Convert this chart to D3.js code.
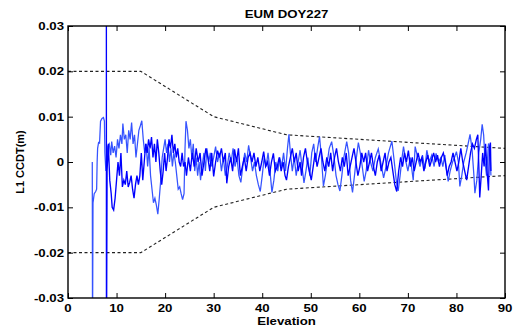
<!DOCTYPE html>
<html>
<head>
<meta charset="utf-8">
<script src="https://cdn.jsdelivr.net/npm/d3@7"></script>
<style>
  body { margin: 0; background: #fff; }
  text { font-family: "Liberation Sans", Arial, sans-serif; font-weight: bold; fill: #000; }
</style>
</head>
<body>
<svg id="chart"></svg>
<script>
// chart text + ticks
const title = "EUM DOY227";
const xLabel = "Elevation";
const yLabel = "L1 CCDT(m)";
const xTicks = [0, 10, 20, 30, 40, 50, 60, 70, 80, 90];
const yTicksMm = [-30, -20, -10, 0, 10, 20, 30];
const yTickLabels = ["-0.03", "-0.02", "-0.01", "0", "0.01", "0.02", "0.03"];

// dashed bound (elevation, mm)
const boundElev = [0, 15, 30, 45, 90];
const boundMm = [20, 20, 10, 6, 3];

// pass 1 (lighter trace), [elevation, CCDT in mm]
const passLight = [
  [5.0,0],[5.05,-40],[5.15,-9],[5.4,-7],[5.7,-6.5],[5.9,-6],[6.0,0],[6.1,3],[6.3,4.3],[6.5,4.2],
  [6.7,9],[7.0,9.6],[7.3,9.8],[7.5,9],[7.6,2],[7.8,-2],[8.2,3.5],[8.5,4],[8.8,1.5],[9.0,4.5],
  [9.3,2],[9.6,3.5],[9.9,1],[10.2,5],[10.5,3],[10.8,6],[11.1,4],[11.3,8.5],[11.6,5],[11.9,6],
  [12.2,2],[12.5,7],[12.8,5],[13.1,8.7],[13.4,4],[13.7,6],[14.0,1],[14.3,4],[14.6,7],[14.9,8],
  [15.2,9.1],[15.5,5],[15.8,2],[16.1,4],[16.4,-1],[16.7,3],[17.0,-3],[17.3,-6],[17.6,-9],[17.9,-8],
  [18.2,-9.5],[18.5,-11.5],[18.8,-8],[19.1,-4],[19.4,1],[19.7,3],[20.0,5],[20.3,2],[20.6,4],[20.9,0],
  [21.2,3],[21.5,-1],[21.8,2],[22.1,0],[22.4,-3],[22.7,-6],[23.0,-5.5],[23.3,-7],[23.6,-8.3],[23.9,-7],
  [24.1,3],[24.3,9],[24.6,7],[24.9,3],[25.2,5],[25.5,1],[25.8,4],[26.1,-2],[26.4,1],[26.7,-3],
  [27.0,0],[27.3,-4],[27.6,-1],[28.0,2],[28.3,-2],[28.6,3],[29.0,0],[29.3,2],[29.6,-1],[30.0,1],
  [30.4,3.4],[30.8,0],[31.2,2],[31.6,-2],[32.0,1],[32.4,-3],[32.8,-1],[33.2,2],[33.6,0],[34.0,3],
  [34.4,-1],[34.8,1],[35.2,-3],[35.6,-4.5],[36.0,-1],[36.4,2],[36.8,0],[37.2,3.7],[37.6,1],[38.0,-2],
  [38.4,0],[38.8,-3],[39.2,-5],[39.6,-6.5],[40.0,-3],[40.4,1],[40.8,-1],[41.2,2],[41.6,-2],[42.0,-6.7],
  [42.4,-4],[42.8,0],[43.2,-2],[43.6,1],[44.0,-1],[44.4,2],[44.8,-2],[45.2,3],[45.5,6.1],[45.8,2],
  [46.2,-2],[46.6,1],[47.0,-3],[47.4,0],[47.8,2.6],[48.2,-1],[48.6,-4.6],[49.0,-2],[49.4,1],[49.8,-3],
  [50.2,2],[50.6,4],[51.0,0],[51.4,3],[51.8,5.6],[52.2,1],[52.6,-5.3],[53.0,-3],[53.4,0],[53.8,3],
  [54.3,4.5],[54.8,1],[55.2,-3],[55.6,-5],[56.0,-6.4],[56.4,-3],[56.8,1],[57.4,4.5],[57.8,2],[58.2,-4],
  [58.6,-6.7],[59.0,-3],[59.4,1],[59.8,4.3],[60.2,2],[60.6,-1],[61.0,-4.3],[61.4,-2],[61.9,2.6],[62.3,0],
  [62.8,-2],[63.3,1],[63.9,2.9],[64.4,0],[65.0,-3.5],[65.5,-1],[66.0,2],[66.7,4.6],[67.1,1],[67.6,-4],
  [68.0,-6.4],[68.4,-3],[68.8,1],[69.1,3.4],[69.6,0],[70.0,-2],[70.5,1],[71.1,-4],[71.5,3.4],[72.0,1],
  [72.5,-1],[73.0,1.5],[73.5,-1.5],[73.9,2.6],[74.4,0],[74.9,1.5],[75.4,-1],[75.8,1.9],[76.3,0],[76.8,1],
  [77.2,-1],[77.6,1.5],[78.0,-2],[78.3,-4.3],[78.7,-2],[79.2,0],[79.6,1],[80.0,2.3],[80.4,0],[80.7,-5.4],
  [81.1,-3],[81.5,0],[82.0,2],[82.4,4],[82.8,6.1],[83.2,3],[83.6,-3],[83.8,-6.9],[84.2,-4],[84.6,2],
  [85.0,5],[85.3,8.3],[85.6,6],[85.9,0],[86.2,-3],[86.6,4.1],[86.9,3],[87.1,-3]
];

// pass 2 (darker trace)
const passDark = [
  [7.9,45],[7.92,-45],[8.05,-2],[8.3,4],[8.6,-4],[8.9,-7],[9.1,-10],[9.4,-10.6],[9.7,-8],[10.0,-4],
  [10.3,0],[10.6,-3],[10.9,2],[11.2,-5.5],[11.5,-4],[11.8,-5],[12.1,-2],[12.4,-5.5],[12.7,-4.5],[13.0,-3],
  [13.3,-6],[13.6,-8],[13.9,-5],[14.2,-3],[14.5,-5],[14.8,-3],[15.1,2],[15.4,-4],[15.7,0],[16.0,4],
  [16.3,2],[16.6,5],[16.9,3],[17.2,5.5],[17.5,1],[17.8,4],[18.1,0],[18.4,5],[18.7,2],[19.0,-2],
  [19.3,-5],[19.6,-2],[19.9,2],[20.2,-2],[20.5,1],[20.8,5],[21.1,3],[21.4,6],[21.7,2],[22.0,4],
  [22.3,1],[22.6,3],[22.9,0],[23.2,-1],[23.5,2],[23.8,-1],[24.1,0],[24.4,-3],[24.8,1],[25.2,-2],
  [25.6,2],[26.0,-1],[26.4,3],[26.8,0],[27.2,2],[27.6,-3],[28.0,0],[28.4,3],[28.8,1],[29.2,-2],
  [29.6,2],[30.0,-3.2],[30.4,0],[30.8,2.5],[31.2,1],[31.6,3],[32.0,0],[32.4,2],[32.7,-4.7],[33.1,-1],
  [33.5,1],[33.9,-2],[34.3,2.8],[34.7,0],[35.1,3],[35.5,-3],[35.9,-1],[36.3,1],[36.7,-2],[37.1,1],
  [37.5,2],[37.9,0],[38.3,2],[38.7,-1],[39.1,1],[39.5,-2],[39.9,0],[40.3,2.3],[40.7,-1],[41.1,0],
  [41.5,-3],[41.9,0],[42.3,1.9],[42.7,-2],[43.1,-1],[43.5,1],[43.9,-2],[44.3,0],[44.7,-3],[45.0,-4],
  [45.4,-1],[45.8,1],[46.2,3],[46.6,0],[47.0,2],[47.4,-2],[47.8,0],[48.1,-3],[48.5,1],[48.9,3],
  [49.3,0],[49.7,-2],[50.1,-4],[50.5,-1],[50.9,2],[51.3,-1],[51.7,1],[52.1,3],[52.5,0],[52.9,-2],
  [53.3,1],[53.7,-1],[54.1,2],[54.5,-2],[54.9,1],[55.3,3],[55.7,0],[56.1,-2],[56.5,1],[56.9,-1],
  [57.3,2],[57.7,-3],[58.1,-1],[58.5,1],[58.9,3],[59.3,0],[59.7,-3],[60.1,-1],[60.5,2],[60.9,0],
  [61.3,2],[61.7,-2],[62.1,0],[62.5,2],[62.9,-1],[63.3,-3],[63.7,0],[64.1,1.5],[64.5,-2],[64.9,0],
  [65.3,2],[65.7,-2],[66.1,0],[66.5,1],[66.9,-2],[67.3,-5],[67.7,-6.5],[68.1,-2],[68.5,1],[68.9,-1],
  [69.3,2],[69.7,0],[70.1,2.5],[70.5,-1],[70.9,1],[71.3,-2],[71.7,0],[72.1,2],[72.5,0],[72.9,1],
  [73.3,-2],[73.7,0],[74.1,1.5],[74.5,-1],[74.9,0.5],[75.3,2],[75.7,0],[76.1,1.5],[76.5,-1],[76.9,1],
  [77.3,2],[77.7,0],[78.1,-3],[78.5,-1],[78.9,0],[79.3,2],[79.7,0],[80.1,-2],[80.5,0],[80.9,3],
  [81.3,0],[81.7,-2],[82.1,-4],[82.5,-1],[82.9,2],[83.3,4],[83.7,3],[84.1,5],[84.4,6],[84.7,-4],
  [84.8,-7.8],[85.1,-3],[85.4,2],[85.7,-1],[86.0,4],[86.3,-2],[86.6,-6.3],[86.8,3],[87.0,4.3],[87.1,-2]
];

const width = 531, height = 328;
const margin = { top: 26, right: 26, bottom: 30, left: 68 };
const stretch = 1.15; // horizontal text looks a bit wide in the original

const svg = d3.select("#chart").attr("width", width).attr("height", height);

const x = d3.scaleLinear().domain([0, 90]).range([margin.left, width - margin.right]);
const y = d3.scaleLinear().domain([-30, 30]).range([height - margin.bottom, margin.top]);

svg.append("defs").append("clipPath").attr("id", "plot")
  .append("rect")
  .attr("x", x(0)).attr("y", y(30))
  .attr("width", x(90) - x(0)).attr("height", y(-30) - y(30));

const line = d3.line()
  .x(function (d) { return x(d[0]); })
  .y(function (d) { return y(d[1]); });

const g = svg.append("g").attr("clip-path", "url(#plot)");

// dashed bounds
const bound = boundElev.map(function (e, i) { return [e, boundMm[i]]; });
[1, -1].forEach(function (s) {
  g.append("path")
    .datum(bound)
    .attr("fill", "none")
    .attr("stroke", "#222")
    .attr("stroke-width", 1.1)
    .attr("stroke-dasharray", "3,2.5")
    .attr("d", d3.line()
      .x(function (d) { return x(d[0]); })
      .y(function (d) { return y(s * d[1]); }));
});

g.append("path")
  .datum(passLight)
  .attr("fill", "none")
  .attr("stroke", "#3553ff")
  .attr("stroke-width", 1.25)
  .attr("d", line);

g.append("path")
  .datum(passDark)
  .attr("fill", "none")
  .attr("stroke", "#0000ff")
  .attr("stroke-width", 1.35)
  .attr("d", line);

// axes: MATLAB box with inward ticks on all sides
const tickLen = 5;
const xAxisB = d3.axisBottom(x).tickValues(xTicks).tickSizeInner(-tickLen).tickSizeOuter(0).tickFormat(function () { return ""; });
const xAxisT = d3.axisTop(x).tickValues(xTicks).tickSizeInner(-tickLen).tickSizeOuter(0).tickFormat(function () { return ""; });
const yAxisL = d3.axisLeft(y).tickValues(yTicksMm).tickSizeInner(-tickLen).tickSizeOuter(0).tickFormat(function () { return ""; });
const yAxisR = d3.axisRight(y).tickValues(yTicksMm).tickSizeInner(-tickLen).tickSizeOuter(0).tickFormat(function () { return ""; });

svg.append("g").attr("transform", "translate(0," + y(-30) + ")").call(xAxisB);
svg.append("g").attr("transform", "translate(0," + y(30) + ")").call(xAxisT);
svg.append("g").attr("transform", "translate(" + x(0) + ",0)").call(yAxisL);
svg.append("g").attr("transform", "translate(" + x(90) + ",0)").call(yAxisR);
svg.selectAll(".domain").remove();
svg.selectAll(".tick line").attr("stroke", "#000").attr("stroke-width", 1);

svg.append("rect")
  .attr("x", x(0)).attr("y", y(30))
  .attr("width", x(90) - x(0)).attr("height", y(-30) - y(30))
  .attr("fill", "none").attr("stroke", "#000").attr("stroke-width", 1.4);

// tick labels
function hText(px, py, str, anchor) {
  return svg.append("text")
    .attr("transform", "translate(" + px + "," + py + ") scale(" + stretch + ",1)")
    .attr("text-anchor", anchor)
    .style("font-size", "11.5px")
    .text(str);
}

xTicks.forEach(function (t) { hText(x(t), y(-30) + 14, t, "middle"); });
yTicksMm.forEach(function (t, i) { hText(x(0) - 4, y(t) + 4, yTickLabels[i], "end"); });

hText((x(0) + x(90)) / 2, height - 3, xLabel, "middle");
hText((x(0) + x(90)) / 2, 18, title, "middle");

svg.append("text")
  .attr("transform", "translate(24," + ((y(30) + y(-30)) / 2) + ") rotate(-90)")
  .attr("text-anchor", "middle")
  .style("font-size", "11px")
  .text(yLabel);
</script>
</body>
</html>
